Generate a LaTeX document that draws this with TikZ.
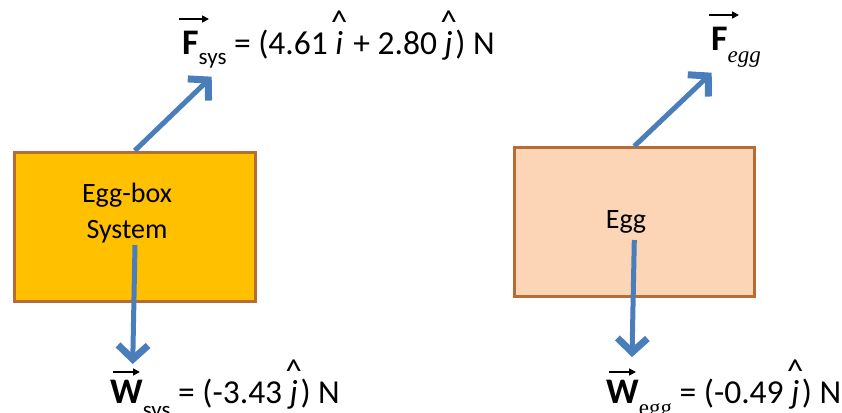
\documentclass[tikz,border=0pt]{standalone}
\usepackage{fontspec}
\setmainfont{Carlito}
\newfontfamily\seriffont{Liberation Serif}
\usetikzlibrary{arrows.meta}
\definecolor{forceblue}{HTML}{4A7EBB}
\definecolor{boxedge}{HTML}{B66C33}
\definecolor{eggboxfill}{HTML}{FFC000}
\definecolor{eggfill}{HTML}{FBD5B5}
\newsavebox\uvbox
\newcommand\uvec[1]{\sbox\uvbox{\itshape #1}\makebox[\wd\uvbox][c]{\raisebox{0.62em}{\textasciicircum}}\kern-\wd\uvbox\usebox\uvbox\hspace{0.08em}}
\newcommand\vsym[1]{{\bfseries\fontsize{36}{40}\selectfont #1}}
\newcommand\vsub[2][-0.3em]{\raisebox{#1}{\fontsize{23}{26}\selectfont #2}}
\begin{document}
\begin{tikzpicture}[x=1pt,y=-1pt,
  bodybox/.style={draw=boxedge, line width=3pt, minimum width=#1, minimum height=149pt, inner sep=0pt},
  boxtext/.style={font=\fontsize{28}{36}\selectfont, align=center, inner sep=0pt},
  force/.style={draw=forceblue, line width=5pt, line join=miter, -{Straight Barb[length=14pt,width=30pt,line width=2pt 1]}},
  vecarrow/.style={draw=black, line width=1.6pt, -{Triangle[length=7pt,width=7pt]}},
  lbl/.style={font=\fontsize{33.5}{38}\selectfont, inner sep=0pt, anchor=base west}]
\useasboundingbox (0,0) rectangle (842,412);
% boxes
\node[bodybox=241pt, fill=eggboxfill] (sysbox) at (134.7,226.7) {};
\node[bodybox=240.3pt, fill=eggfill] (eggbox) at (634.3,222.2) {};
\node[boxtext] (systext) at (127,213) {Egg-box\\System};
\node[boxtext, anchor=base] (eggtext) at (626,228) {Egg};
% force arrow endpoints
\coordinate (fsystip) at (211.7,76.7);
\coordinate (feggtip) at (711.7,72.7);
\coordinate (wsysstart) at (135,245);
\coordinate (wsystip) at (132.7,364);
\coordinate (weggstart) at (634.3,240);
\coordinate (weggtip) at (632,357);
\draw[force] (sysbox.north) -- (fsystip);
\draw[force] (eggbox.north) -- (feggtip);
\draw[force] (wsysstart) -- (wsystip);
\draw[force] (weggstart) -- (weggtip);
% labels
\node[lbl] (fsyslbl) at (182,54) {\vsym{F}\vsub{sys} = (4.61 \uvec{i} + 2.80 \uvec{j}) N};
\node[lbl] (fegglbl) at (711,51) {\vsym{F}\vsub[-0.35em]{\seriffont\itshape egg}};
\node[lbl] (wsyslbl) at (110,403) {\vsym{W}\vsub[-0.42em]{sys} = (-3.43 \uvec{j}) N};
\node[lbl] (wegglbl) at (606,403) {\vsym{W}\vsub[-0.38em]{\seriffont egg} = (-0.49 \uvec{j}) N};
% vector arrows over symbols
\draw[vecarrow] ([shift={(-3pt,35pt)}]fsyslbl.base west) -- ++(30,0);
\draw[vecarrow] ([shift={(-2pt,36pt)}]fegglbl.base west) -- ++(30,0);
\draw[vecarrow] ([shift={(3pt,31pt)}]wsyslbl.base west) -- ++(27,0);
\draw[vecarrow] ([shift={(3pt,31pt)}]wegglbl.base west) -- ++(27,0);
\end{tikzpicture}
\end{document}
